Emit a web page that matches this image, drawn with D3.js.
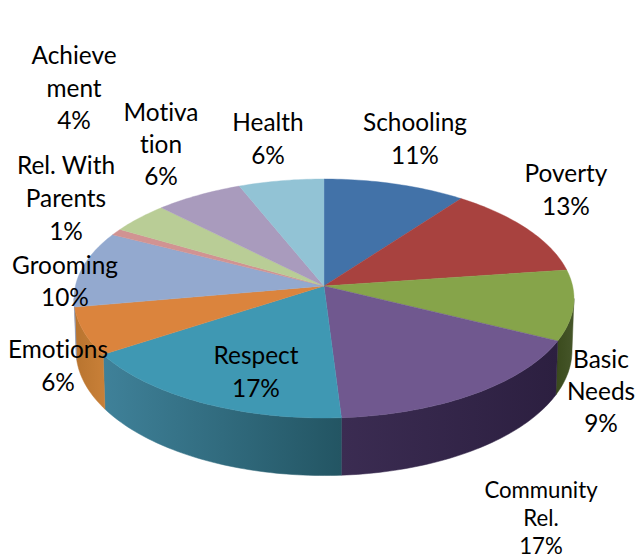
<!DOCTYPE html>
<html><head><meta charset="utf-8">
<script src="https://cdn.jsdelivr.net/npm/d3@7"></script>
<style>html,body{margin:0;padding:0;background:#fff}svg{display:block}text{font-variant-ligatures:none;font-feature-settings:"liga" 0}</style>
</head><body><svg id="c" width="637" height="560"></svg>
<script>
// Data
const categories = ["Schooling","Poverty","Basic Needs","Community Rel.","Respect","Emotions","Grooming","Rel. With Parents","Achievement","Motivation","Health"];
const sliceShares = [10.2,12.6,9.5,16.7,16.8,6.4,10.3,0.9,4.2,6.3,6.1];
const printedPercents = ["11%","13%","9%","17%","17%","6%","10%","1%","4%","6%","6%"];
const labelLines = [["Schooling"],["Poverty"],["Basic","Needs"],["Community","Rel."],["Respect"],["Emotions"],["Grooming"],["Rel. With","Parents"],["Achieve","ment"],["Motiva","tion"],["Health"]];
const topColors = ["#4272a8","#a8423f","#86a44a","#70588f","#3f98b3","#db843d","#93a9cf","#d19392","#b9cd96","#a99bbd","#92c3d5"];
const wallColors = [null,null,["#46562a","#3a4a1c"],["#2c1f40","#3b2c52"],["#235563","#3f8199"],["#c98038","#b8742f"],["#8a9cc0","#8a9cc0"],null,null,null,null];

// Layout
const cx=324, cy=286, a=248.6, b=118.2, k=0.1046, depth=51.5, wallShrink=0.992;
const labelPos = [[415,131],[566,182],[601,368],[541,498],[256,364],[58,358],[65,274],[66,174],[74,64],[161,121],[268,131]];
const labelSize = [24.4,24.4,24.4,22.2,24.4,24.4,24.4,24.4,24.4,24.4,24.4];
const lineStep = [32.5,32.5,32,28,32.5,32.5,32,33,32.5,32,32.5];
const wallFrom = 96*Math.PI/180, wallTo = 264*Math.PI/180;

const svg = d3.select("#c");
const defs = svg.append("defs");
const arcs = d3.pie().sort(null).value(d=>d)(sliceShares);

// perspective projection of a point on the disc (r 0..1, angle clockwise from top)
function proj(r,t){
  const u=r*Math.sin(t), v=r*Math.cos(t), w=1+k*v;
  return [cx+a*u/w, cy-b*v/w];
}
function projLow(t){
  const v=Math.cos(t), w=1+k*v, p=proj(1,t);
  return [cx+(p[0]-cx)*wallShrink, p[1]+depth/w];
}
const line=d3.line();
const angleSamples=(t0,t1)=>{const n=Math.max(2,Math.ceil((t1-t0)/0.02));return d3.range(n+1).map(i=>t0+(t1-t0)*i/n);};

// side walls
arcs.forEach((d,i)=>{
  if(!wallColors[i])return;
  const t0=Math.max(d.startAngle,wallFrom), t1=Math.min(d.endAngle,wallTo);
  if(t1<=t0)return;
  const ts=angleSamples(t0,t1);
  const pts=ts.map(t=>proj(1,t)).concat(ts.slice().reverse().map(projLow));
  const xs=d3.extent(pts,p=>p[0]);
  const g=defs.append("linearGradient").attr("id","w"+i).attr("gradientUnits","userSpaceOnUse")
    .attr("x1",xs[1]).attr("x2",xs[0]).attr("y1",0).attr("y2",0);
  g.append("stop").attr("offset",0).attr("stop-color",wallColors[i][0]);
  g.append("stop").attr("offset",1).attr("stop-color",wallColors[i][1]);
  svg.append("path").attr("d",line(pts)+"Z").attr("fill",`url(#w${i})`).attr("stroke",`url(#w${i})`).attr("stroke-width",0.5);
});

// top faces
arcs.forEach((d,i)=>{
  const pts=[proj(0,0)].concat(angleSamples(d.startAngle,d.endAngle).map(t=>proj(1,t)));
  svg.append("path").attr("d",line(pts)+"Z").attr("fill",topColors[i]).attr("stroke",topColors[i]).attr("stroke-width",0.4);
});

// labels
categories.forEach((c,i)=>{
  const lines=labelLines[i].concat(printedPercents[i]);
  const t=svg.append("text").attr("text-anchor","middle")
    .attr("font-family","Lato, 'Open Sans', sans-serif").attr("font-size",labelSize[i]).attr("fill","#000");
  lines.forEach((l,j)=>t.append("tspan").attr("x",labelPos[i][0]).attr("y",labelPos[i][1]+j*lineStep[i]).text(l));
});
</script></body></html>
